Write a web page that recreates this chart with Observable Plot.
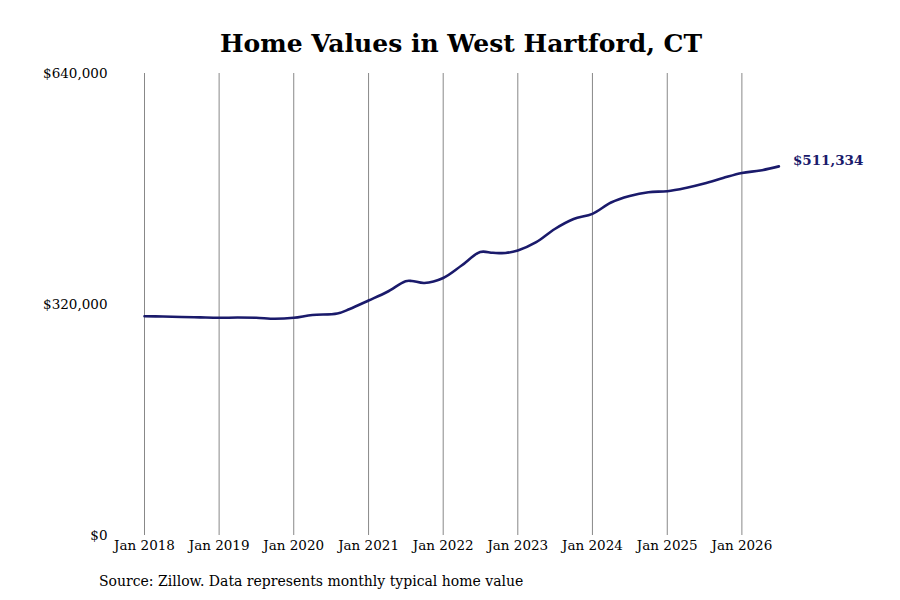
<!DOCTYPE html>
<html>
<head>
<meta charset="utf-8">
<script src="https://cdn.jsdelivr.net/npm/d3@7"></script>
<script src="https://cdn.jsdelivr.net/npm/@observablehq/plot@0.6"></script>
<style>
  html, body { margin: 0; padding: 0; background: #fff; }
  #wrap { position: relative; width: 900px; height: 600px; font-family: "DejaVu Serif", serif; }
  #title { position: absolute; left: 11px; width: 900px; top: 27px; text-align: center; font-size: 25px; font-weight: bold; color: #000; line-height: 34px; }
  #chart { position: absolute; left: 0; top: 60px; }
  #caption { position: absolute; left: 99px; top: 571px; font-size: 14px; color: #000; line-height: 20px; }
</style>
</head>
<body>
<div id="wrap">
  <div id="title">Home Values in West Hartford, CT</div>
  <div id="chart"></div>
  <div id="caption">Source: Zillow. Data represents monthly typical home value</div>
</div>
<script>
const dates = [
  "2018-01","2018-04","2018-07","2018-10",
  "2019-01","2019-04","2019-07","2019-10",
  "2020-01","2020-04","2020-08","2020-10",
  "2021-01","2021-04","2021-07","2021-08","2021-10",
  "2022-01","2022-04","2022-07","2022-09","2022-11",
  "2023-01","2023-04","2023-07","2023-10",
  "2024-01","2024-04","2024-07","2024-10",
  "2025-01","2025-04","2025-07","2025-10",
  "2026-01","2026-04","2026-07"
];
const values = [
  303800, 303400, 302700, 302100,
  301600, 301900, 301600, 300200,
  301600, 305500, 307500, 313800,
  325500, 337300, 352300, 352600, 349800,
  356700, 374000, 392700, 391600, 391300,
  394800, 406300, 424600, 438400,
  445600, 461300, 470300, 475600,
  476900, 481400, 487600, 495200,
  502200, 505600, 511334
];
const gridYears = ["2018","2019","2020","2021","2022","2023","2024","2025","2026"];
const yTicks = [0, 320000, 640000];
const endLabel = "$511,334";

const data = dates.map((d, i) => ({date: new Date(d + "-01T00:00:00Z"), value: values[i]}));
const gridDates = gridYears.map(y => new Date(y + "-01-01T00:00:00Z"));
const lineColor = "#1a1a6b";

const chart = Plot.plot({
  width: 900,
  height: 500,
  marginTop: 13,
  marginBottom: 25,
  marginLeft: 144,
  marginRight: 84,
  style: {fontFamily: "DejaVu Serif, serif", fontSize: "13.5px", color: "#000", background: "#fff"},
  x: {type: "utc", domain: [new Date("2018-01-01T00:00:00Z"), new Date("2027-01-01T00:00:00Z")], label: null},
  y: {domain: [0, 640000], label: null},
  marks: [
    Plot.ruleX(gridDates, {stroke: "#888", strokeWidth: 1}),
    Plot.axisX({ticks: gridDates, tickFormat: d3.utcFormat("%b %Y"), tickSize: 0, tickPadding: 5, label: null, fill: "#000"}),
    Plot.axisY({ticks: yTicks, tickFormat: d3.format("$,"), tickSize: 0, tickPadding: 37, label: null, fill: "#000"}),
    Plot.line(data, {x: "date", y: "value", curve: "catmull-rom", stroke: lineColor, strokeWidth: 2.6}),
    Plot.text([data[data.length - 1]], {x: "date", y: "value", text: () => endLabel, dx: 14, dy: -6, textAnchor: "start", fontWeight: "bold", fontSize: 13.5, fill: lineColor})
  ]
});
document.getElementById("chart").appendChild(chart);
</script>
</body>
</html>
